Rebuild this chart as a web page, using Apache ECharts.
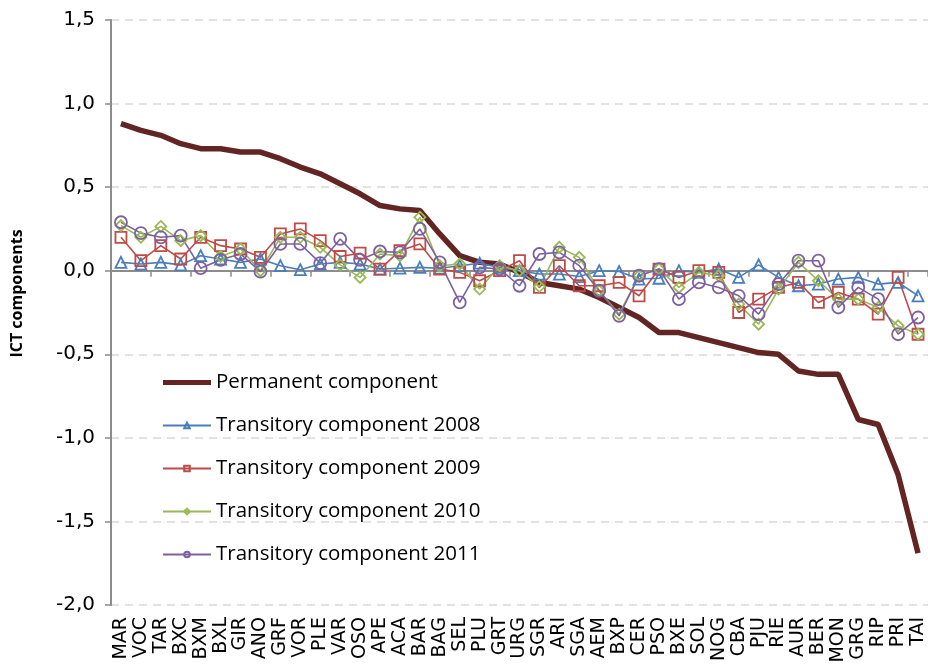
<!DOCTYPE html>
<html><head><meta charset="utf-8">
<script src="https://cdn.jsdelivr.net/npm/echarts@6/dist/echarts.min.js"></script>
<style>html,body{margin:0;padding:0;background:#fff}#c{width:928px;height:670px}</style>
</head><body><div id="c"></div>
<script>
var categories = ['MAR','VOC','TAR','BXC','BXM','BXL','GIR','ANO','GRF','VOR','PLE','VAR','OSO','APE','ACA','BAR','BAG','SEL','PLU','GRT','URG','SGR','ARI','SGA','AEM','BXP','CER','PSO','BXE','SOL','NOG','CBA','PJU','RIE','AUR','BER','MON','GRG','RIP','PRI','TAI'];
var permanent = [0.88,0.84,0.81,0.76,0.73,0.73,0.71,0.71,0.67,0.62,0.58,0.52,0.46,0.39,0.37,0.36,0.22,0.09,0.05,0.04,-0.01,-0.07,-0.09,-0.11,-0.16,-0.22,-0.28,-0.37,-0.37,-0.40,-0.43,-0.46,-0.49,-0.50,-0.60,-0.62,-0.62,-0.89,-0.92,-1.22,-1.69];
var trans2008 = [0.05,0.04,0.05,0.035,0.09,0.07,0.05,0.07,0.03,0.006,0.04,0.05,0.04,0.01,0.015,0.02,0.015,0.03,0.045,0.02,0.0,-0.02,-0.02,-0.035,0.0,-0.005,-0.05,-0.045,0.0,-0.01,0.01,-0.04,0.035,-0.04,-0.09,-0.08,-0.05,-0.04,-0.08,-0.07,-0.15];
var trans2009 = [0.20,0.06,0.15,0.07,0.20,0.15,0.13,0.08,0.22,0.25,0.18,0.085,0.105,0.01,0.12,0.16,0.01,-0.01,-0.06,0.0,0.06,-0.10,0.03,-0.09,-0.09,-0.07,-0.15,0.01,-0.04,0.0,-0.01,-0.25,-0.17,-0.10,-0.07,-0.19,-0.13,-0.17,-0.26,-0.04,-0.38];
var trans2010 = [0.27,0.20,0.265,0.18,0.21,0.085,0.13,0.0,0.20,0.20,0.14,0.035,-0.04,0.10,0.09,0.32,0.03,0.04,-0.11,0.03,0.0,-0.095,0.14,0.08,-0.12,-0.26,-0.03,0.01,-0.10,-0.01,-0.03,-0.20,-0.32,-0.11,0.05,-0.06,-0.17,-0.17,-0.22,-0.33,-0.38];
var trans2011 = [0.29,0.225,0.20,0.21,0.015,0.065,0.10,-0.006,0.16,0.16,0.045,0.19,0.065,0.115,0.11,0.25,0.05,-0.19,0.02,0.01,-0.09,0.10,0.11,0.03,-0.12,-0.27,-0.03,0.01,-0.17,-0.07,-0.10,-0.15,-0.26,-0.08,0.06,0.06,-0.22,-0.10,-0.17,-0.38,-0.28];
var yTicks = {min: -2, max: 1.5, step: 0.5};
var seriesNames = ['Permanent component','Transitory component 2008','Transitory component 2009','Transitory component 2010','Transitory component 2011'];

var chart = echarts.init(document.getElementById('c'), null, {renderer: 'canvas'});
function tr(name, data, color, symbol, size) {
  return {
    name: name, type: 'line', data: data, symbol: symbol, symbolSize: size,
    showAllSymbol: true,
    lineStyle: {color: color, width: 1.6},
    itemStyle: {color: 'rgba(255,255,255,0)', borderColor: color, borderWidth: 1.8},
    emphasis: {disabled: true}, animation: false
  };
}
chart.setOption({
  animation: false,
  grid: {left: 111, top: 20, width: 820, bottom: 65, containLabel: false},
  legend: {
    orient: 'vertical', left: 157, top: 367, itemWidth: 48, itemHeight: 7, itemGap: 22,
    textStyle: {fontFamily: 'Open Sans', fontSize: 20.5, color: '#000'},
    data: [{name: seriesNames[0], icon: 'path://M0,0L48,0L48,5L0,5Z', itemStyle: {color: '#632523'}},
           seriesNames[1], seriesNames[2], seriesNames[3], seriesNames[4]]
  },
  xAxis: [{
    type: 'category', data: categories, position: 'bottom',
    axisLine: {show: false, onZero: false}, axisTick: {show: false},
    axisLabel: {rotate: 90, interval: 0, margin: 12, fontFamily: 'DejaVu Sans', fontSize: 19, color: '#000'}
  }, {
    type: 'category', data: categories, position: 'top',
    axisLine: {show: true, onZero: true, lineStyle: {color: '#8c8c8c', width: 2}},
    axisTick: {show: true, inside: true, length: 6, lineStyle: {color: '#8c8c8c', width: 1.5}},
    axisLabel: {show: false}
  }],
  yAxis: {
    type: 'value', min: yTicks.min, max: yTicks.max, interval: yTicks.step,
    name: 'ICT components', nameLocation: 'middle', nameGap: 86, nameRotate: 90,
    nameTextStyle: {fontFamily: 'Open Sans', fontWeight: 'bold', fontSize: 16, color: '#000', padding: [0, 0, 0, 38]},
    axisLine: {show: true, lineStyle: {color: '#8c8c8c', width: 2}},
    axisTick: {show: true, length: 6, lineStyle: {color: '#8c8c8c', width: 1.5}},
    axisLabel: {margin: 16, fontFamily: 'DejaVu Sans', fontSize: 20, color: '#000',
      formatter: function (v) { return v.toFixed(1).replace('.', ','); }},
    splitLine: {show: true, lineStyle: {color: '#d9d9d9', type: [8, 6], width: 1.5}}
  },
  series: [
    {name: seriesNames[0], type: 'line', data: permanent, symbol: 'none',
     lineStyle: {color: '#632523', width: 5.5}, itemStyle: {color: '#632523'}, z: 1},
    tr(seriesNames[1], trans2008, '#4a7ebb', 'triangle', 11),
    tr(seriesNames[2], trans2009, '#be4b48', 'rect', 11),
    tr(seriesNames[3], trans2010, '#98b954', 'diamond', 11),
    tr(seriesNames[4], trans2011, '#7d60a0', 'circle', 12)
  ]
});
</script></body></html>
